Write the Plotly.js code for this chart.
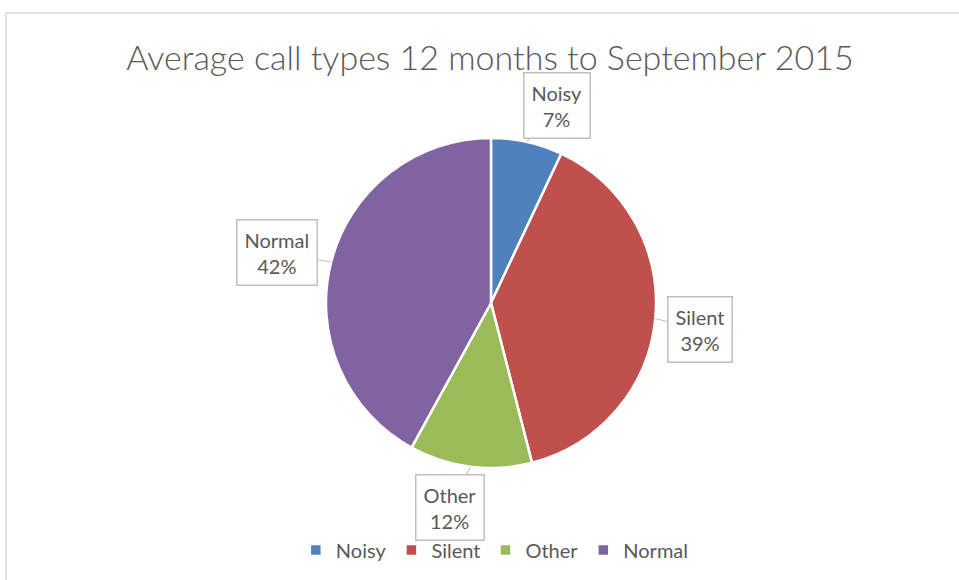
<!DOCTYPE html>
<html>
<head>
<meta charset="utf-8">
<script src="https://cdn.plot.ly/plotly-3.0.1.min.js"></script>
<style>
  html, body { margin: 0; padding: 0; background: #fff; }
  #chart { width: 959px; height: 580px; }
</style>
</head>
<body>
<div id="chart"></div>
<script>
    var categories = ['Noisy', 'Silent', 'Other', 'Normal'];
    var shares = [7, 39, 12, 42];
    var colors = ['#4F81BD', '#C0504D', '#9BBB59', '#8064A2'];

    var W = 959, H = 580;
    var cx = 491, cy = 303, R = 165;

    // callout box offsets from the slice edge (px)
    var boxOffsets = [[30, -36], [45, 11], [-20, 41], [-54, -9]];

    var trace = {
      type: 'pie',
      labels: categories,
      values: shares,
      sort: false,
      direction: 'clockwise',
      rotation: 0,
      textinfo: 'none',
      hoverinfo: 'label+percent',
      marker: {
        colors: colors,
        line: { color: '#FFFFFF', width: 2.5 }
      },
      domain: {
        x: [(cx - R) / W, (cx + R) / W],
        y: [1 - (cy + R) / H, 1 - (cy - R) / H]
      }
    };

    // place the callouts at the middle of each slice
    var total = shares.reduce(function (a, b) { return a + b; }, 0);
    var annotations = [];
    var acc = 0;
    shares.forEach(function (v, i) {
      var mid = (acc + v / 2) / total * 2 * Math.PI;
      acc += v;
      var px = cx + R * Math.sin(mid);
      var py = cy - R * Math.cos(mid);
      annotations.push({
        xref: 'paper', yref: 'paper',
        x: px / W, y: 1 - py / H,
        text: categories[i] + '<br>' + Math.round(v / total * 100) + '%',
        showarrow: true,
        arrowhead: 0,
        arrowwidth: 1,
        arrowcolor: '#BFBFBF',
        standoff: 0,
        ax: boxOffsets[i][0],
        ay: boxOffsets[i][1],
        bgcolor: '#FFFFFF',
        bordercolor: '#BFBFBF',
        borderwidth: 1.5,
        borderpad: 7,
        font: { family: 'Lato, sans-serif', size: 20, color: '#595959' }
      });
    });

    var layout = {
      width: W,
      height: H,
      margin: { l: 0, r: 0, t: 0, b: 0 },
      paper_bgcolor: '#FFFFFF',
      title: {
        text: 'Average call types 12 months to September 2015',
        font: { family: 'Lato, sans-serif', size: 34, color: '#595959', weight: 300 },
        x: 0.511,
        xanchor: 'center',
        y: 1 - 58 / H,
        yanchor: 'middle'
      },
      showlegend: true,
      legend: {
        orientation: 'h',
        x: 0.516,
        xanchor: 'center',
        y: 1 - 550 / H,
        yanchor: 'middle',
        font: { family: 'Lato, sans-serif', size: 20, color: '#595959' },
        traceorder: 'normal'
      },
      shapes: [{
        type: 'rect',
        xref: 'paper', yref: 'paper',
        x0: 6 / W, x1: 1.02,
        y0: -0.02, y1: 1 - 13 / H,
        line: { color: '#D9D9D9', width: 1.5 }
      }],
      annotations: annotations
    };

Plotly.newPlot('chart', [trace], layout, {
  displayModeBar: false
});
</script>
</body>
</html>
